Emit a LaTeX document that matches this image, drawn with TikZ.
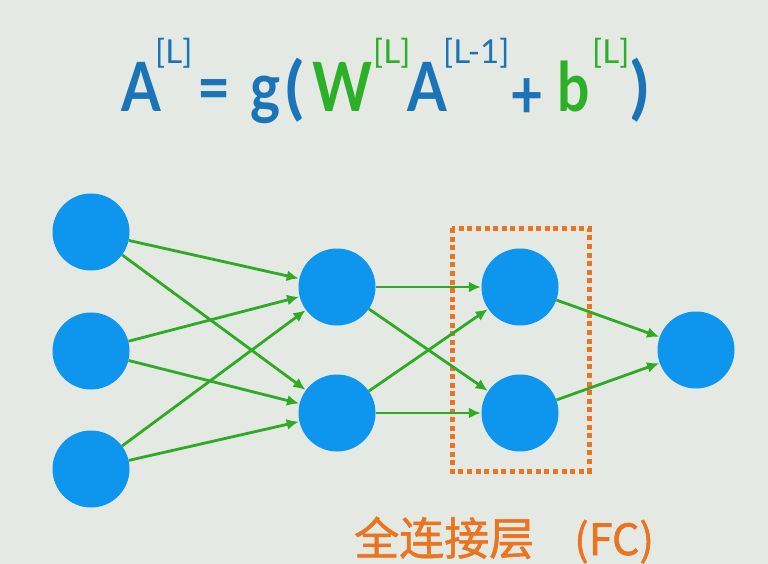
\documentclass[tikz,border=0pt]{standalone}
\usepackage{fontspec}
\newfontfamily\eqfont{Lato}
\newfontfamily\cjk[FakeBold=1.3]{Noto Sans CJK SC}
\usetikzlibrary{arrows.meta}
\definecolor{bgc}{RGB}{229,233,228}
\definecolor{nodeblue}{RGB}{14,150,238}
\definecolor{eqblue}{RGB}{26,116,184}
\definecolor{eqgreen}{RGB}{44,176,40}
\definecolor{arrgreen}{RGB}{46,170,36}
\definecolor{fcorange}{RGB}{234,116,32}
\newcommand{\nrw}[1]{\scalebox{0.84}[1]{#1}}
\tikzset{
  neuron/.style={circle, fill=nodeblue, draw=none, minimum size=77pt, inner sep=0pt},
  conn/.style={draw=arrgreen, line width=2.8pt, -{Latex[length=12pt,width=11pt]}, shorten >=0.5pt},
  big/.style={anchor=base west, inner sep=0pt, font=\eqfont\bfseries\fontsize{68}{68}\selectfont},
  sup/.style={anchor=base west, inner sep=0pt, font=\eqfont\fontsize{33}{33}\selectfont},
  fcbox/.style={draw=fcorange, line width=5pt, dash pattern=on 5pt off 3.6pt},
  fctext/.style={anchor=base west, inner sep=0pt, text=fcorange, font=\cjk\fontsize{45}{45}\selectfont}
}
\begin{document}
\begin{tikzpicture}[x=1pt,y=-1pt]
\fill[bgc] (0,0) rectangle (768,564);
\useasboundingbox (0,0) rectangle (768,564);
% formula
\node[big, text=eqblue] (eA) at (121,112) {\nrw{A}};
\node[sup, text=eqblue] (eAs) at (155,64) {[L]};
\node[big, text=eqblue] (eeq) at (197,112) {\nrw{=}};
\node[big, text=eqblue] (eg) at (250,112) {\nrw{g}};
\node[big, text=eqblue] (elp) at (285,112) {(};
\node[big, text=eqgreen] (eW) at (312,112) {\nrw{W}};
\node[sup, text=eqgreen] (eWs) at (373,64) {[L]};
\node[big, text=eqblue] (eA2) at (407,112) {\nrw{A}};
\node[sup, text=eqblue] (eA2s) at (443,64) {[L-1]};
\node[big, text=eqblue] (eplus) at (510,119) {\nrw{+}};
\node[big, text=eqgreen] (eb) at (557,112) {\nrw{b}};
\node[sup, text=eqgreen] (ebs) at (592,64) {[L]};
\node[big, text=eqblue] (erp) at (630,112) {)};
% box
\draw[fcbox] (452,228) rectangle (589,471);
% neurons
\node[neuron] (i1) at (91,232) {};
\node[neuron] (i2) at (91,351) {};
\node[neuron] (i3) at (91,469) {};
\node[neuron] (h1) at (337,287) {};
\node[neuron] (h2) at (337,413) {};
\node[neuron] (f1) at (520,287) {};
\node[neuron] (f2) at (520,413) {};
\node[neuron] (o) at (696,350) {};
% connections
\foreach \a in {i1,i2,i3}{\foreach \b in {h1,h2}{\draw[conn] (\a) -- (\b);}}
\foreach \a in {h1,h2}{\foreach \b in {f1,f2}{\draw[conn] (\a) -- (\b);}}
\foreach \a in {f1,f2}{\draw[conn] (\a) -- (o);}
% label
\node[fctext] (fc) at (354,555) {全连接层};
\node[fctext, font=\cjk\fontsize{43}{43}\selectfont] (fc2) at (574,555) {(FC)};
\end{tikzpicture}
\end{document}
